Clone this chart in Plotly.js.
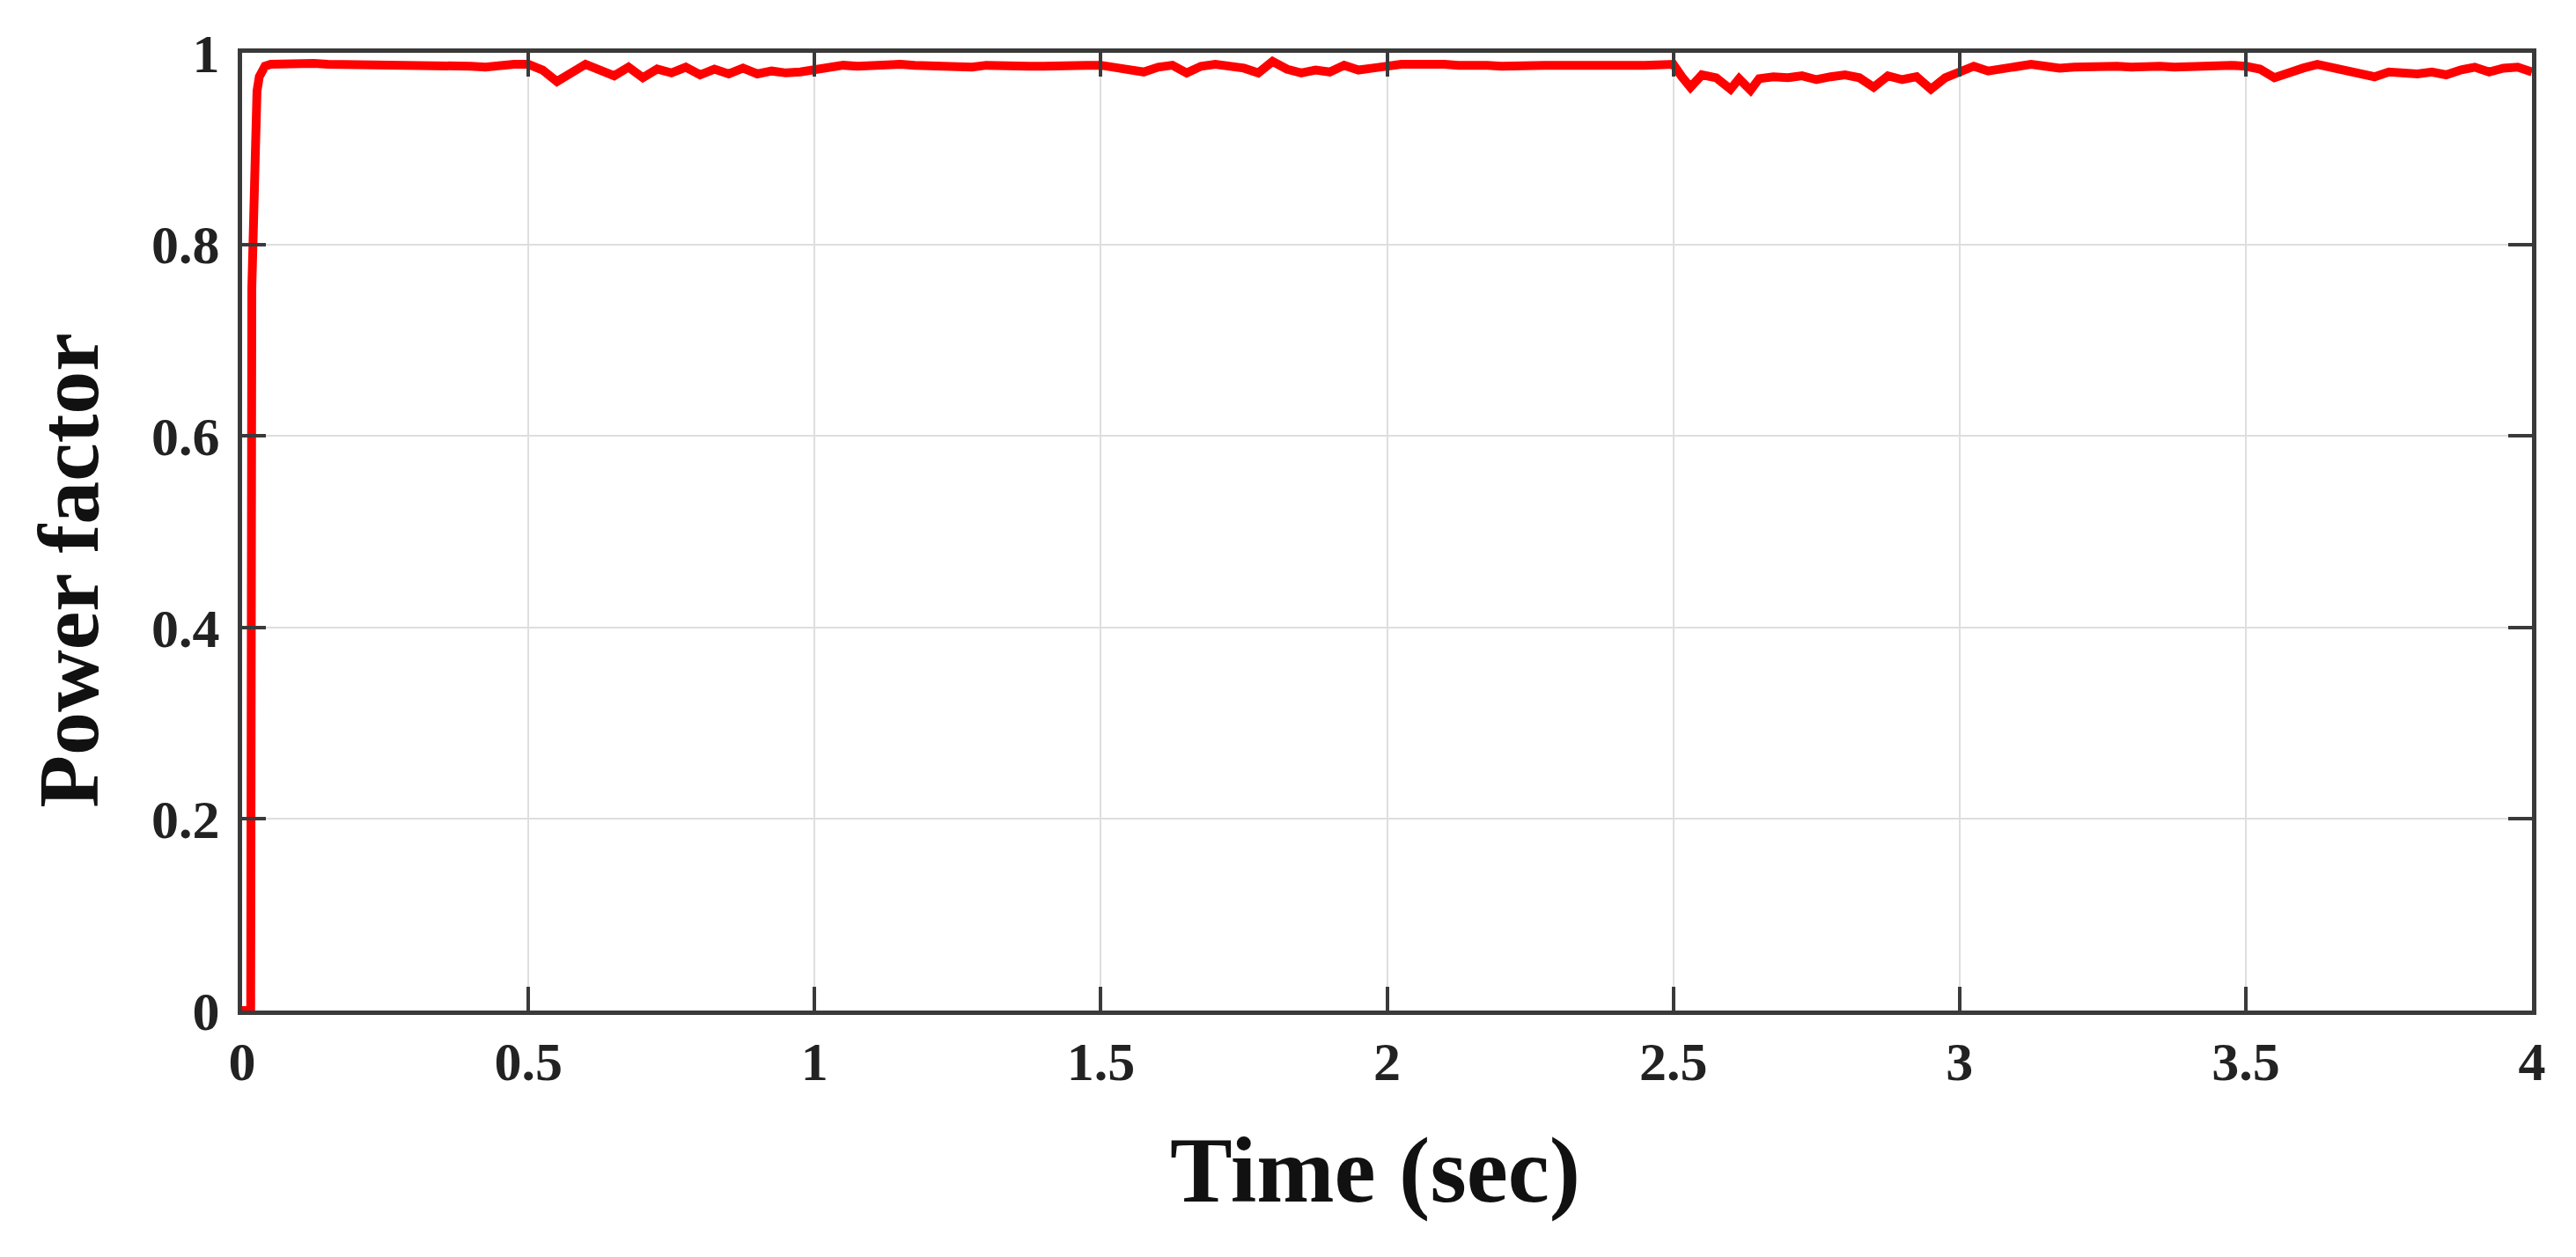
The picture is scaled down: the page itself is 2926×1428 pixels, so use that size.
<!DOCTYPE html>
<html>
<head>
<meta charset="utf-8">
<script src="https://cdn.plot.ly/plotly-3.0.1.min.js"></script>
<style>
  html, body { margin: 0; padding: 0; background: #fff; }
  #pf { width: 2926px; height: 1428px; }
</style>
</head>
<body>
<div id="pf"></div>
<script>
// start-up: zero, then a steep rise to ~0.99
var tStart  = [0, 0.015, 0.017, 0.019, 0.021, 0.023, 0.026, 0.030, 0.035, 0.040];
var pfStart = [0, 0,     0.755, 0.80,  0.925, 0.93,  0.96,  0.975, 0.983, 0.986];

// steady state, every 0.025 s (denser in the 2.5 s dip)
var tRun = [
  0.050, 0.075, 0.100, 0.125, 0.150, 0.175, 0.200, 0.225, 0.250, 0.275,
  0.300, 0.325, 0.350, 0.375, 0.400, 0.425, 0.450, 0.475, 0.500, 0.525,
  0.550, 0.575, 0.600, 0.625, 0.650, 0.675, 0.700, 0.725, 0.750, 0.775,
  0.800, 0.825, 0.850, 0.875, 0.900, 0.925, 0.950, 0.975, 1.000, 1.025,
  1.050, 1.075, 1.100, 1.125, 1.150, 1.175, 1.200, 1.225, 1.250, 1.275,
  1.300, 1.325, 1.350, 1.375, 1.400, 1.425, 1.450, 1.475, 1.500, 1.525,
  1.550, 1.575, 1.600, 1.625, 1.650, 1.675, 1.700, 1.725, 1.750, 1.775,
  1.800, 1.825, 1.850, 1.875, 1.900, 1.925, 1.950, 1.975, 2.000, 2.025,
  2.050, 2.075, 2.100, 2.125, 2.150, 2.175, 2.200, 2.225, 2.250, 2.275,
  2.300, 2.325, 2.350, 2.375, 2.400, 2.425, 2.450, 2.475, 2.500, 2.515,
  2.530, 2.550, 2.575, 2.600, 2.615, 2.635, 2.650, 2.675, 2.700, 2.725,
  2.750, 2.775, 2.800, 2.825, 2.850, 2.875, 2.900, 2.925, 2.950, 2.975,
  3.000, 3.025, 3.050, 3.075, 3.100, 3.125, 3.150, 3.175, 3.200, 3.225,
  3.250, 3.275, 3.300, 3.325, 3.350, 3.375, 3.400, 3.425, 3.450, 3.475,
  3.500, 3.525, 3.550, 3.575, 3.600, 3.625, 3.650, 3.675, 3.700, 3.725,
  3.750, 3.775, 3.800, 3.825, 3.850, 3.875, 3.900, 3.925, 3.950, 3.975,
  4.000
];
var pfRun = [
  0.988, 0.989, 0.990, 0.989, 0.988, 0.988, 0.987, 0.988, 0.988, 0.987,
  0.988, 0.988, 0.987, 0.988, 0.986, 0.985, 0.987, 0.988, 0.988, 0.982,
  0.970, 0.979, 0.988, 0.982, 0.976, 0.985, 0.974, 0.983, 0.979, 0.985,
  0.977, 0.983, 0.978, 0.984, 0.978, 0.981, 0.979, 0.980, 0.983, 0.986,
  0.987, 0.986, 0.987, 0.986, 0.988, 0.987, 0.986, 0.987, 0.986, 0.985,
  0.987, 0.986, 0.987, 0.986, 0.986, 0.987, 0.986, 0.987, 0.987, 0.984,
  0.982, 0.980, 0.985, 0.987, 0.979, 0.986, 0.988, 0.987, 0.984, 0.979,
  0.991, 0.983, 0.979, 0.982, 0.980, 0.987, 0.982, 0.984, 0.987, 0.988,
  0.988, 0.989, 0.988, 0.987, 0.988, 0.987, 0.986, 0.987, 0.988, 0.987,
  0.987, 0.988, 0.987, 0.987, 0.988, 0.987, 0.987, 0.988, 0.988, 0.975,
  0.964, 0.977, 0.974, 0.962, 0.973, 0.961, 0.973, 0.975, 0.974, 0.976,
  0.972, 0.975, 0.977, 0.974, 0.964, 0.976, 0.972, 0.975, 0.962, 0.974,
  0.979, 0.986, 0.981, 0.984, 0.987, 0.988, 0.986, 0.984, 0.985, 0.986,
  0.987, 0.986, 0.985, 0.986, 0.986, 0.985, 0.986, 0.986, 0.986, 0.987,
  0.986, 0.983, 0.974, 0.980, 0.984, 0.988, 0.985, 0.981, 0.978, 0.975,
  0.980, 0.979, 0.978, 0.980, 0.977, 0.982, 0.985, 0.980, 0.984, 0.985,
  0.980
];

var xTicks = [0, 0.5, 1, 1.5, 2, 2.5, 3, 3.5, 4];
var yTicks = [0, 0.2, 0.4, 0.6, 0.8, 1];

var serif = 'Liberation Serif, DejaVu Serif, serif';

var trace = {
  x: tStart.concat(tRun),
  y: pfStart.concat(pfRun),
  mode: 'lines',
  line: { color: '#ff0000', width: 10 },
  name: 'Power factor'
};

var axisStyle = {
  showline: true,
  linecolor: '#3a3a3a',
  linewidth: 5,
  mirror: 'ticks',
  ticks: 'inside',
  ticklen: 27,
  tickwidth: 4,
  tickcolor: '#3a3a3a',
  showgrid: true,
  gridcolor: '#dedede',
  gridwidth: 2,
  zeroline: false,
  tickfont: { family: serif, size: 62, color: '#222', weight: 'bold' }
};

var layout = {
  width: 2926,
  height: 1428,
  margin: { l: 275, r: 50, t: 60, b: 280 },
  paper_bgcolor: '#ffffff',
  plot_bgcolor: '#ffffff',
  showlegend: false,
  xaxis: Object.assign({}, axisStyle, {
    range: [0, 4],
    tickvals: xTicks,
    ticktext: xTicks.map(String),
    ticklabelstandoff: 0
  }),
  yaxis: Object.assign({}, axisStyle, {
    range: [0, 1],
    tickvals: yTicks,
    ticktext: yTicks.map(String),
    ticklabelstandoff: 8
  }),
  annotations: [
    {
      text: 'Time (sec)', xref: 'paper', yref: 'paper',
      x: 0.495, y: -0.167, xanchor: 'center', yanchor: 'middle',
      showarrow: false,
      font: { family: serif, size: 106, color: '#111', weight: 'bold' }
    },
    {
      text: 'Power factor', xref: 'paper', yref: 'paper',
      x: -0.076, y: 0.46, xanchor: 'center', yanchor: 'middle',
      textangle: -90, showarrow: false,
      font: { family: serif, size: 98, color: '#111', weight: 'bold' }
    }
  ]
};

Plotly.newPlot('pf', [trace], layout, { displayModeBar: false, staticPlot: true });
</script>
</body>
</html>
